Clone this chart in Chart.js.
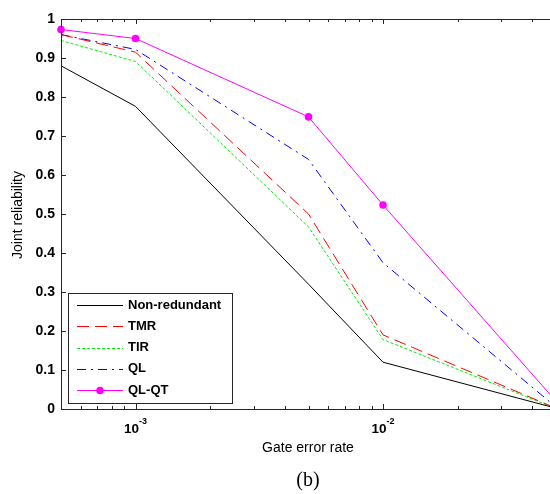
<!DOCTYPE html>
<html>
<head>
<meta charset="utf-8">
<script src="https://cdn.jsdelivr.net/npm/chart.js@4.4.1/dist/chart.umd.min.js"></script>
<style>
  html, body { margin: 0; padding: 0; background: #fff; overflow: hidden; }
  #wrap { width: 560px; height: 494px; }
</style>
</head>
<body>
<div id="wrap"><canvas id="chart" width="560" height="494"></canvas></div>
<script>
// data
var errorRates   = [5e-4, 1e-3, 5e-3, 1e-2, 5e-2];
var nonRedundant = [0.88, 0.776, 0.32, 0.12, 0.002];
var tmr          = [0.96, 0.915, 0.50, 0.19, 0.002];
var tir          = [0.945, 0.891, 0.467, 0.178, 0.001];
var ql           = [0.96, 0.922, 0.64, 0.375, 0.005];
var qlqt         = [0.973, 0.95, 0.749, 0.523, 0.02];

var yTicks  = [0, 0.1, 0.2, 0.3, 0.4, 0.5, 0.6, 0.7, 0.8, 0.9, 1];
var xMajor  = [1e-3, 1e-2];
var xMajorExp = ['-3', '-2'];
var xMinor  = [6e-4, 7e-4, 8e-4, 9e-4, 2e-3, 3e-3, 4e-3, 5e-3, 6e-3, 7e-3, 8e-3, 9e-3, 2e-2, 3e-2, 4e-2];

function pts(arr) {
  return arr.map(function (v, i) { return { x: errorRates[i], y: v }; });
}

var FONT = '"Liberation Sans", Arial, sans-serif';

// axes, ticks, labels and legend drawn in MATLAB style
var matlabAxes = {
  id: 'matlabAxes',
  afterDraw: function (chart) {
    var ctx = chart.ctx, a = chart.chartArea;
    var xs = chart.scales.x, ys = chart.scales.y;
    ctx.save();
    ctx.strokeStyle = '#262626';
    ctx.lineWidth = 1;
    ctx.beginPath();
    ctx.rect(a.left + 0.5, a.top + 0.5, a.right - a.left, a.bottom - a.top);
    ctx.stroke();

    // x ticks (inward, top and bottom)
    ctx.beginPath();
    xMajor.forEach(function (v) {
      var px = Math.round(xs.getPixelForValue(v)) + 0.5;
      ctx.moveTo(px, a.bottom); ctx.lineTo(px, a.bottom - 5);
      ctx.moveTo(px, a.top); ctx.lineTo(px, a.top + 5);
    });
    xMinor.forEach(function (v) {
      var px = Math.round(xs.getPixelForValue(v)) + 0.5;
      ctx.moveTo(px, a.bottom); ctx.lineTo(px, a.bottom - 3);
      ctx.moveTo(px, a.top); ctx.lineTo(px, a.top + 3);
    });
    // y ticks
    yTicks.forEach(function (v) {
      var py = Math.round(ys.getPixelForValue(v)) + 0.5;
      ctx.moveTo(a.left, py); ctx.lineTo(a.left + 5, py);
      ctx.moveTo(a.right, py); ctx.lineTo(a.right - 5, py);
    });
    ctx.stroke();

    // y tick labels
    ctx.fillStyle = '#000';
    ctx.font = 'bold 14px ' + FONT;
    ctx.textAlign = 'right';
    ctx.textBaseline = 'middle';
    yTicks.forEach(function (v) {
      var py = ys.getPixelForValue(v);
      ctx.fillText(v === 0 || v === 1 ? String(v) : v.toFixed(1), a.left - 6, py);
    });

    // x tick labels 10^n
    xMajor.forEach(function (v, i) {
      var px = xs.getPixelForValue(v);
      ctx.font = 'bold 13.5px ' + FONT;
      var w1 = ctx.measureText('10').width;
      ctx.font = 'bold 9px ' + FONT;
      var w2 = ctx.measureText(xMajorExp[i]).width;
      var x0 = px - (w1 + w2) / 2;
      ctx.textAlign = 'left';
      ctx.textBaseline = 'alphabetic';
      ctx.font = 'bold 13.5px ' + FONT;
      ctx.fillText('10', x0, a.bottom + 24);
      ctx.font = 'bold 9px ' + FONT;
      ctx.fillText(xMajorExp[i], x0 + w1, a.bottom + 15);
    });

    // axis titles
    ctx.font = '14px ' + FONT;
    ctx.textAlign = 'center';
    ctx.textBaseline = 'middle';
    ctx.fillText('Gate error rate', 308, 448);
    ctx.save();
    ctx.translate(18, 215);
    ctx.rotate(-Math.PI / 2);
    ctx.fillText('Joint reliability', 0, 0);
    ctx.restore();

    ctx.font = '20px "Liberation Serif", "Times New Roman", serif';
    ctx.fillText('(b)', 308, 481);

    // legend box
    var bx = 68, by = 293, bw = 164, bh = 110;
    ctx.fillStyle = '#fff';
    ctx.fillRect(bx, by, bw, bh);
    ctx.strokeStyle = '#262626';
    ctx.strokeRect(bx + 0.5, by + 0.5, bw, bh);
    ctx.font = 'bold 13px ' + FONT;
    ctx.textAlign = 'left';
    chart.data.datasets.forEach(function (ds, i) {
      var ly = 305 + i * 21.3;
      ctx.save();
      ctx.strokeStyle = ds.borderColor;
      ctx.lineWidth = ds.borderWidth;
      ctx.setLineDash(ds.borderDash || []);
      ctx.beginPath();
      ctx.moveTo(77, Math.round(ly) + 0.5);
      ctx.lineTo(123, Math.round(ly) + 0.5);
      ctx.stroke();
      if (ds.pointRadius > 0) {
        ctx.fillStyle = ds.pointBackgroundColor;
        ctx.beginPath();
        ctx.arc(100, Math.round(ly) + 0.5, ds.pointRadius, 0, Math.PI * 2);
        ctx.fill();
      }
      ctx.restore();
      ctx.fillStyle = '#000';
      ctx.fillText(ds.label, 128, ly);
    });
    ctx.restore();
  }
};

var ctx = document.getElementById('chart').getContext('2d');
var myChart = new Chart(ctx, {
  type: 'line',
  data: {
    datasets: [
      { label: 'Non-redundant', data: pts(nonRedundant), borderColor: '#000000', borderWidth: 1, pointRadius: 0 },
      { label: 'TMR', data: pts(tmr), borderColor: '#ff0000', borderWidth: 1, borderDash: [12, 6], pointRadius: 0 },
      { label: 'TIR', data: pts(tir), borderColor: '#00ee00', borderWidth: 1, borderDash: [3, 2], pointRadius: 0 },
      { label: 'QL', data: pts(ql), borderColor: '#0000ff', borderWidth: 1, borderDash: [9, 5, 2, 5], pointRadius: 0 },
      { label: 'QL-QT', data: pts(qlqt), borderColor: '#ff00ff', borderWidth: 1, pointRadius: 3.8,
        pointBackgroundColor: '#ff00ff', pointBorderColor: '#ff00ff', pointBorderWidth: 0 }
    ]
  },
  options: {
    responsive: false,
    animation: false,
    layout: { padding: { left: 61, top: 19, right: 4, bottom: 85 } },
    elements: { line: { tension: 0 } },
    datasets: { line: { clip: false } },
    scales: {
      x: { type: 'logarithmic', min: 5e-4, max: 5e-2, display: false },
      y: { type: 'linear', min: 0, max: 1, display: false }
    },
    plugins: {
      legend: { display: false },
      tooltip: { enabled: false }
    }
  },
  plugins: [matlabAxes]
});
</script>
</body>
</html>
